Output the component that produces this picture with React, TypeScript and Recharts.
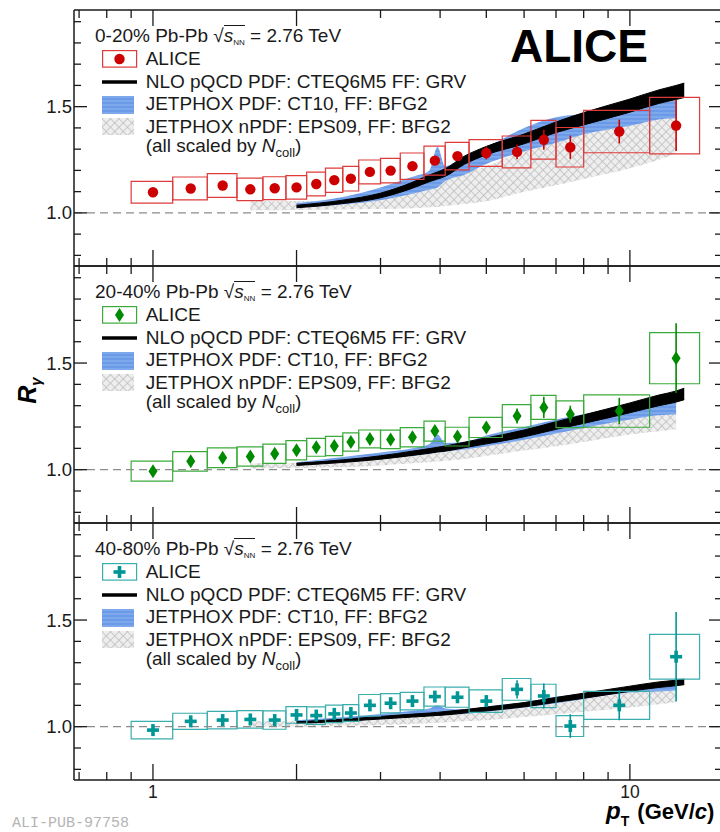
import React from "react";
import {
  ComposedChart,
  Area,
  Scatter,
  ErrorBar,
  XAxis,
  YAxis,
  ReferenceArea,
  ReferenceLine,
  Legend,
  Label,
} from "recharts";

// pT bins of the ALICE points (GeV/c)
const BIN_LO = [0.9, 1.1, 1.3, 1.5, 1.7, 1.9, 2.1, 2.3, 2.5, 2.7, 3.0, 3.3, 3.7, 4.1, 4.6, 5.4, 6.2, 7.0, 8.0, 11.0];
const BIN_HI = [1.1, 1.3, 1.5, 1.7, 1.9, 2.1, 2.3, 2.5, 2.7, 3.0, 3.3, 3.7, 4.1, 4.6, 5.4, 6.2, 7.0, 8.0, 11.0, 14.0];
const PT = [1.0, 1.2, 1.4, 1.6, 1.8, 2.0, 2.2, 2.4, 2.6, 2.85, 3.15, 3.5, 3.9, 4.35, 5.0, 5.8, 6.6, 7.5, 9.5, 12.5];

// R_gamma, 0-20%
const R_0_20 = [1.097, 1.115, 1.129, 1.111, 1.116, 1.12, 1.136, 1.154, 1.161, 1.193, 1.199, 1.22, 1.246, 1.267, 1.282, 1.287, 1.344, 1.309, 1.383, 1.411];
const STAT_0_20 = [0.004, 0.004, 0.004, 0.004, 0.005, 0.005, 0.006, 0.006, 0.007, 0.008, 0.01, 0.012, 0.015, 0.02, 0.03, 0.035, 0.047, 0.055, 0.056, 0.12];
const SYS_0_20 = [0.051, 0.054, 0.056, 0.053, 0.054, 0.055, 0.056, 0.057, 0.058, 0.056, 0.058, 0.062, 0.068, 0.065, 0.063, 0.075, 0.091, 0.093, 0.1, 0.133];

// R_gamma, 20-40%
const R_20_40 = [0.993, 1.039, 1.056, 1.062, 1.075, 1.091, 1.105, 1.111, 1.13, 1.144, 1.142, 1.152, 1.181, 1.155, 1.198, 1.252, 1.292, 1.26, 1.275, 1.523];
const STAT_20_40 = [0.004, 0.004, 0.004, 0.005, 0.005, 0.005, 0.006, 0.006, 0.007, 0.008, 0.009, 0.011, 0.015, 0.015, 0.02, 0.035, 0.05, 0.04, 0.062, 0.163];
const SYS_20_40 = [0.047, 0.046, 0.046, 0.045, 0.045, 0.045, 0.042, 0.045, 0.043, 0.042, 0.043, 0.045, 0.047, 0.044, 0.047, 0.053, 0.056, 0.063, 0.076, 0.12];

// R_gamma, 40-80%
const R_40_80 = [0.984, 1.025, 1.031, 1.034, 1.031, 1.055, 1.052, 1.06, 1.064, 1.1, 1.11, 1.12, 1.141, 1.138, 1.12, 1.175, 1.144, 1.003, 1.1, 1.328];
const STAT_40_80 = [0.005, 0.005, 0.005, 0.005, 0.005, 0.006, 0.006, 0.007, 0.008, 0.009, 0.01, 0.012, 0.015, 0.017, 0.02, 0.043, 0.058, 0.055, 0.07, 0.21];
const SYS_40_80 = [0.041, 0.038, 0.041, 0.041, 0.043, 0.039, 0.041, 0.041, 0.039, 0.051, 0.045, 0.041, 0.045, 0.047, 0.053, 0.051, 0.055, 0.049, 0.066, 0.105];

// theory curves, sampled in pT
const THEORY_PT = [1.6, 2.0, 2.5, 3.0, 3.5, 3.8, 3.95, 4.1, 4.5, 5.0, 6.0, 7.0, 8.0, 10.0, 11.5, 12.5, 13.0];

const NLO_0_20 = [null, 1.03, 1.052, 1.082, 1.13, 1.163, 1.176, 1.19, 1.248, 1.293, 1.348, 1.403, 1.443, 1.505, 1.547, 1.567, 1.577];
const NLO_W_0_20 = [null, 0.006, 0.008, 0.011, 0.014, 0.016, 0.017, 0.018, 0.019, 0.02, 0.023, 0.025, 0.029, 0.031, 0.032, 0.033, 0.034];
const JP_LO_0_20 = [null, 1.025, 1.04, 1.06, 1.09, 1.11, 1.12, 1.15, 1.18, 1.23, 1.29, 1.33, 1.37, 1.41, 1.44, 1.445, null];
const JP_HI_0_20 = [null, 1.045, 1.075, 1.12, 1.17, 1.2, 1.31, 1.22, 1.27, 1.31, 1.4, 1.45, 1.465, 1.49, 1.515, 1.53, null];
const EPS_LO_0_20 = [1.012, 1.014, 1.016, 1.018, 1.022, 1.026, 1.028, 1.032, 1.042, 1.055, 1.1, 1.13, 1.16, 1.21, 1.25, 1.28, null];
const EPS_HI_0_20 = [1.055, 1.056, 1.062, 1.085, 1.115, 1.13, 1.14, 1.155, 1.19, 1.22, 1.295, 1.34, 1.375, 1.42, 1.44, 1.45, null];

const NLO_20_40 = [null, 1.025, 1.04, 1.057, 1.077, 1.088, 1.094, 1.099, 1.116, 1.135, 1.17, 1.207, 1.237, 1.29, 1.325, 1.343, 1.355];
const NLO_W_20_40 = [null, 0.005, 0.006, 0.008, 0.01, 0.011, 0.011, 0.012, 0.013, 0.014, 0.016, 0.018, 0.02, 0.023, 0.025, 0.026, 0.027];
const JP_LO_20_40 = [null, 1.02, 1.035, 1.05, 1.065, 1.075, 1.08, 1.085, 1.095, 1.11, 1.14, 1.17, 1.195, 1.235, 1.255, 1.26, null];
const JP_HI_20_40 = [null, 1.035, 1.06, 1.08, 1.1, 1.12, 1.165, 1.125, 1.13, 1.16, 1.2, 1.235, 1.26, 1.3, 1.315, 1.32, null];
const EPS_LO_20_40 = [1.005, 1.008, 1.012, 1.02, 1.03, 1.035, 1.038, 1.042, 1.05, 1.065, 1.09, 1.11, 1.13, 1.165, 1.18, 1.19, null];
const EPS_HI_20_40 = [1.03, 1.033, 1.04, 1.05, 1.065, 1.075, 1.08, 1.087, 1.1, 1.12, 1.15, 1.175, 1.2, 1.24, 1.255, 1.265, null];

const NLO_40_80 = [null, 1.019, 1.03, 1.042, 1.052, 1.057, 1.06, 1.063, 1.072, 1.083, 1.103, 1.126, 1.145, 1.178, 1.197, 1.205, 1.21];
const NLO_W_40_80 = [null, 0.004, 0.005, 0.006, 0.007, 0.007, 0.007, 0.008, 0.008, 0.009, 0.01, 0.011, 0.012, 0.012, 0.013, 0.013, 0.013];
const JP_LO_40_80 = [null, 1.015, 1.025, 1.035, 1.045, 1.05, 1.05, 1.055, 1.06, 1.07, 1.09, 1.11, 1.13, 1.16, 1.165, 1.17, null];
const JP_HI_40_80 = [null, 1.03, 1.045, 1.06, 1.075, 1.085, 1.1, 1.085, 1.08, 1.095, 1.115, 1.14, 1.155, 1.18, 1.19, 1.195, null];
const EPS_LO_40_80 = [1.0, 1.0, 1.003, 1.008, 1.013, 1.016, 1.018, 1.02, 1.025, 1.03, 1.045, 1.058, 1.07, 1.09, 1.105, 1.115, null];
const EPS_HI_40_80 = [1.025, 1.025, 1.03, 1.04, 1.05, 1.055, 1.057, 1.06, 1.07, 1.08, 1.1, 1.115, 1.13, 1.16, 1.172, 1.18, null];

// axes
const X_TICKS = [0.7, 0.8, 0.9, 1, 2, 3, 4, 5, 6, 7, 8, 9, 10];
const X_LONG = [1, 2, 10];
const X_LABELS: Record<number, string> = { 1: "1", 10: "10" };
const Y_TICKS = [0.8, 0.9, 1.0, 1.1, 1.2, 1.3, 1.4, 1.5, 1.6, 1.7, 1.8, 1.9];
const Y_LABELS: Record<string, string> = { "1": "1.0", "1.5": "1.5" };

const X_DOMAIN = [0.683, 15.6];
const Y_DOMAIN = [0.75, 1.955];

const FONT = '"Liberation Sans", Arial, Helvetica, sans-serif';
const INK = "#1a1a1a";
const LEFT = 74;
const RIGHT = 722;
const SVG_W = 724;

const PANELS = [
  {
    centrality: "0-20%", top: 10, h: 256,
    r: R_0_20, stat: STAT_0_20, sys: SYS_0_20,
    nlo: NLO_0_20, nloW: NLO_W_0_20, jpLo: JP_LO_0_20, jpHi: JP_HI_0_20, epsLo: EPS_LO_0_20, epsHi: EPS_HI_0_20,
    color: "#cc0000", box: "#dd3b3b", marker: "circle",
  },
  {
    centrality: "20-40%", top: 266, h: 257,
    r: R_20_40, stat: STAT_20_40, sys: SYS_20_40,
    nlo: NLO_20_40, nloW: NLO_W_20_40, jpLo: JP_LO_20_40, jpHi: JP_HI_20_40, epsLo: EPS_LO_20_40, epsHi: EPS_HI_20_40,
    color: "#008a00", box: "#3aaa3a", marker: "diamond",
  },
  {
    centrality: "40-80%", top: 523, h: 257,
    r: R_40_80, stat: STAT_40_80, sys: SYS_40_80,
    nlo: NLO_40_80, nloW: NLO_W_40_80, jpLo: JP_LO_40_80, jpHi: JP_HI_40_80, epsLo: EPS_LO_40_80, epsHi: EPS_HI_40_80,
    color: "#009696", box: "#3aadad", marker: "cross",
  },
];

type PanelCfg = (typeof PANELS)[number];

function Marker({ cx, cy, kind, color }: { cx?: number; cy?: number; kind: string; color: string }) {
  if (cx == null || cy == null) return null;
  if (kind === "circle") return <circle cx={cx} cy={cy} r={5.2} fill={color} />;
  if (kind === "diamond")
    return <polygon points={`${cx},${cy - 7} ${cx + 4.5},${cy} ${cx},${cy + 7} ${cx - 4.5},${cy}`} fill={color} />;
  return (
    <g fill={color}>
      <rect x={cx - 6} y={cy - 1.8} width={12} height={3.6} />
      <rect x={cx - 1.8} y={cy - 6} width={3.6} height={12} />
    </g>
  );
}

function Patterns() {
  return (
    <svg width={0} height={0} style={{ position: "absolute" }}>
      <defs>
        <pattern id="hatchGrey" width={6} height={6} patternUnits="userSpaceOnUse" patternTransform="rotate(45)">
          <rect width={6} height={6} fill="#eeeeee" />
          <path d="M0 0 H6 M0 0 V6" stroke="#bdbdbd" strokeWidth={1.6} />
        </pattern>
        <pattern id="blueStreak" width={10} height={4} patternUnits="userSpaceOnUse">
          <rect width={10} height={4} fill="#6b9be8" />
          <path d="M0 1 H10" stroke="#98bbf2" strokeWidth={0.8} />
        </pattern>
      </defs>
    </svg>
  );
}

function LegendSymbol({ kind, cfg }: { kind: string; cfg: PanelCfg }) {
  return (
    <svg width={36} height={18} style={{ marginLeft: 7, display: "block" }}>
      {kind === "data" && (
        <>
          <rect x={0.6} y={0.6} width={34} height={16.5} fill="none" stroke={cfg.box} strokeWidth={1.2} />
          <Marker cx={17.5} cy={9} kind={cfg.marker} color={cfg.color} />
        </>
      )}
      {kind === "nlo" && <line x1={0} x2={35} y1={9} y2={9} stroke="#000" strokeWidth={3.5} />}
      {kind === "jp" && <rect x={0} y={0} width={32} height={18} fill="url(#blueStreak)" />}
      {kind === "eps" && <rect x={0} y={0} width={32} height={17} fill="url(#hatchGrey)" />}
    </svg>
  );
}

function PanelLegend({ cfg, logo }: { cfg: PanelCfg; logo: boolean }) {
  const row = (kind: string, text: React.ReactNode) => (
    <div style={{ display: "flex", alignItems: "center", height: 22.7 }}>
      <div style={{ width: 50.7 }}>{kind && <LegendSymbol kind={kind} cfg={cfg} />}</div>
      <div style={{ whiteSpace: "nowrap" }}>{text}</div>
    </div>
  );
  return (
    <div style={{ position: "relative", fontFamily: FONT, fontSize: 19, color: INK, lineHeight: "22.7px" }}>
      <div style={{ height: 24, lineHeight: "24px", whiteSpace: "nowrap" }}>
        {cfg.centrality} Pb-Pb √
        <span style={{ borderTop: `1.2px solid ${INK}`, display: "inline-block", lineHeight: "19px", fontStyle: "italic" }}>
          s<span style={{ fontSize: 8, fontStyle: "normal", verticalAlign: -3 }}>NN</span>
        </span>
        {" "}= 2.76 TeV
      </div>
      {row("data", "ALICE")}
      {row("nlo", "NLO pQCD PDF: CTEQ6M5 FF: GRV")}
      {row("jp", "JETPHOX PDF: CT10, FF: BFG2")}
      {row("eps", "JETPHOX nPDF: EPS09, FF: BFG2")}
      {row("", (
        <>
          (all scaled by <i>N</i>
          <span style={{ fontSize: 13, verticalAlign: -5 }}>coll</span>)
        </>
      ))}
      {logo && (
        <div style={{ position: "absolute", left: 415, top: -1, fontSize: 46, lineHeight: "46px", fontWeight: "bold", color: "#000" }}>
          ALICE
        </div>
      )}
    </div>
  );
}

function Panel({ cfg, bottom, yLabel, logo }: { cfg: PanelCfg; bottom: boolean; yLabel: boolean; logo: boolean }) {
  const theory = THEORY_PT.map((pt, i) => ({
    pt,
    nlo: cfg.nlo[i] == null ? null : [cfg.nlo[i]! - cfg.nloW[i]!, cfg.nlo[i]! + cfg.nloW[i]!],
    jp: cfg.jpLo[i] == null ? null : [cfg.jpLo[i], cfg.jpHi[i]],
    eps: cfg.epsLo[i] == null ? null : [cfg.epsLo[i], cfg.epsHi[i]],
  }));
  const points = PT.map((pt, i) => ({ pt, r: cfg.r[i], stat: cfg.stat[i] }));

  const plotTop = 2;
  const plotBottom = 2 + cfg.h;
  const marginBottom = bottom ? 52 : 2;

  const xTick = (p: any) => {
    const v = p.payload.value;
    const x = p.x;
    const len = X_LONG.includes(v) ? 16 : 8;
    return (
      <g>
        <line x1={x} x2={x} y1={plotBottom} y2={plotBottom - len} stroke={INK} strokeWidth={1.3} />
        <line x1={x} x2={x} y1={plotTop} y2={plotTop + len} stroke={INK} strokeWidth={1.3} />
        {bottom && X_LABELS[v] && (
          <text x={x} y={plotBottom + 18} textAnchor="middle" fontFamily={FONT} fontSize={17.5} fill={INK}>
            {X_LABELS[v]}
          </text>
        )}
      </g>
    );
  };

  const yTick = (p: any) => {
    const v = Math.round(p.payload.value * 10) / 10;
    const y = p.y;
    const label = Y_LABELS[String(v)];
    const len = label ? 13 : 7;
    return (
      <g>
        <line x1={LEFT} x2={LEFT + len} y1={y} y2={y} stroke={INK} strokeWidth={1.3} />
        <line x1={RIGHT} x2={RIGHT - len} y1={y} y2={y} stroke={INK} strokeWidth={1.3} />
        {label && (
          <text x={LEFT - 2} y={y + 6.5} textAnchor="end" fontFamily={FONT} fontSize={18.5} fill={INK}>
            {label}
          </text>
        )}
      </g>
    );
  };

  return (
    <div style={{ position: "absolute", left: 0, top: cfg.top - 2 }}>
      <ComposedChart
        width={SVG_W}
        height={cfg.h + 2 + marginBottom}
        data={theory}
        margin={{ top: 2, right: SVG_W - RIGHT, bottom: marginBottom - 1, left: LEFT - 1 }}
      >
        <XAxis
          dataKey="pt"
          type="number"
          scale="log"
          domain={X_DOMAIN}
          allowDataOverflow
          ticks={X_TICKS}
          interval={0}
          height={1}
          tickSize={0}
          tickMargin={0}
          tickLine={false}
          tick={xTick}
          axisLine={{ stroke: INK, strokeWidth: 1.5 }}
        >
          {bottom && (
            <Label
              content={() => (
                <text x={606} y={plotBottom + 39} fontFamily={FONT} fontWeight="bold" fill="#000">
                  <tspan fontStyle="italic" fontSize={24}>p</tspan>
                  <tspan fontSize={14} dy={7}>T</tspan>
                  <tspan fontSize={22} dy={-7} dx={2}> (GeV/</tspan>
                  <tspan fontSize={22} fontStyle="italic">c</tspan>
                  <tspan fontSize={22}>)</tspan>
                </text>
              )}
            />
          )}
        </XAxis>
        <YAxis
          type="number"
          domain={Y_DOMAIN}
          allowDataOverflow
          ticks={Y_TICKS}
          interval={0}
          width={1}
          tickSize={0}
          tickMargin={0}
          tickLine={false}
          tick={yTick}
          axisLine={{ stroke: INK, strokeWidth: 1.5 }}
        >
          {yLabel && (
            <Label
              content={() => {
                const cy = plotTop + cfg.h / 2 - 4;
                return (
                  <text
                    x={36}
                    y={cy}
                    transform={`rotate(-90, 36, ${cy})`}
                    textAnchor="middle"
                    fontFamily={FONT}
                    fontWeight="bold"
                    fontStyle="italic"
                    fontSize={25}
                    fill="#000"
                  >
                    R<tspan fontSize={15} dy={5}>γ</tspan>
                  </text>
                );
              }}
            />
          )}
        </YAxis>
        <ReferenceLine y={Y_DOMAIN[1]} stroke={INK} strokeWidth={1.5} />
        <ReferenceLine y={1} stroke="#8c8c8c" strokeWidth={1.3} strokeDasharray="8 5" />
        <Area dataKey="eps" type="monotone" fill="url(#hatchGrey)" fillOpacity={1} stroke="none" isAnimationActive={false} />
        <Area dataKey="jp" type="monotone" fill="url(#blueStreak)" fillOpacity={1} stroke="none" isAnimationActive={false} />
        <Area dataKey="nlo" type="monotone" fill="#000" fillOpacity={1} stroke="#000" strokeWidth={1} isAnimationActive={false} />
        {PT.map((pt, i) => (
          <ReferenceArea
            key={`sys-${pt}`}
            x1={BIN_LO[i]}
            x2={BIN_HI[i]}
            y1={cfg.r[i] - cfg.sys[i]}
            y2={cfg.r[i] + cfg.sys[i]}
            fill="none"
            stroke={cfg.box}
            strokeWidth={1.2}
            ifOverflow="visible"
          />
        ))}
        <Scatter
          data={points}
          dataKey="r"
          isAnimationActive={false}
          shape={(p: any) => <Marker cx={p.cx} cy={p.cy} kind={cfg.marker} color={cfg.color} />}
        >
          <ErrorBar dataKey="stat" direction="y" width={0} stroke={cfg.color} strokeWidth={1.6} />
        </Scatter>
        <Legend
          layout="horizontal"
          verticalAlign="middle"
          align="center"
          wrapperStyle={{ left: 95, top: 16, width: 620, height: "auto" }}
          content={() => <PanelLegend cfg={cfg} logo={logo} />}
        />
      </ComposedChart>
    </div>
  );
}

export default function App() {
  return (
    <div
      style={{
        position: "absolute",
        left: 0,
        top: 0,
        width: 720,
        height: 832,
        overflow: "hidden",
        background: "#fff",
        fontFamily: FONT,
      }}
    >
      <Patterns />
      {PANELS.map((cfg, i) => (
        <Panel key={cfg.centrality} cfg={cfg} bottom={i === 2} yLabel={i === 1} logo={i === 0} />
      ))}
      <div
        style={{
          position: "absolute",
          left: 12,
          top: 816,
          fontFamily: '"Liberation Mono", "DejaVu Sans Mono", monospace',
          fontSize: 15,
          lineHeight: "15px",
          color: "#b4b4b4",
        }}
      >
        ALI-PUB-97758
      </div>
    </div>
  );
}
